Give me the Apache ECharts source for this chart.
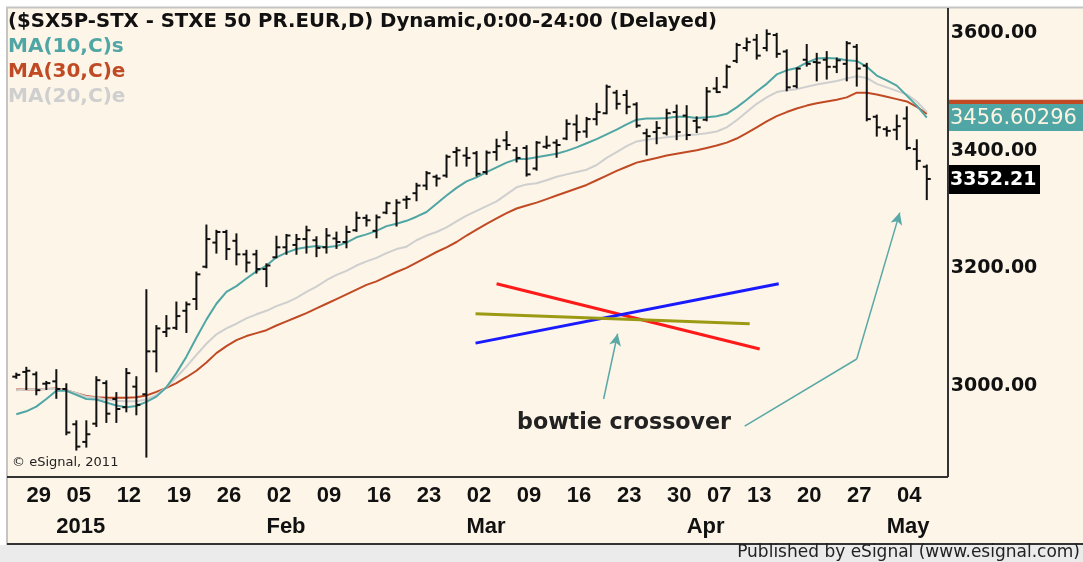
<!DOCTYPE html>
<html>
<head>
<meta charset="utf-8">
<script src="https://cdn.jsdelivr.net/npm/echarts@6/dist/echarts.min.js"></script>
<style>
html, body { margin: 0; padding: 0; background: #fff; }
#main { width: 1083px; height: 562px; }
</style>
</head>
<body>
<div id="main"></div>
<script>
// trading days on the chart (Dec 2014 - May 2015)
var dates = ['12-23', '12-24', '12-29', '12-30', '12-31', '01-02',
    '01-05', '01-06', '01-07', '01-08', '01-09', '01-12', '01-13', '01-14', '01-15', '01-16',
    '01-19', '01-20', '01-21', '01-22', '01-23', '01-26', '01-27', '01-28', '01-29', '01-30',
    '02-02', '02-03', '02-04', '02-05', '02-06', '02-09', '02-10', '02-11', '02-12', '02-13',
    '02-16', '02-17', '02-18', '02-19', '02-20', '02-23', '02-24', '02-25', '02-26', '02-27',
    '03-02', '03-03', '03-04', '03-05', '03-06', '03-09', '03-10', '03-11', '03-12', '03-13',
    '03-16', '03-17', '03-18', '03-19', '03-20', '03-23', '03-24', '03-25', '03-26', '03-27',
    '03-30', '03-31', '04-01', '04-02', '04-07', '04-08', '04-09', '04-10',
    '04-13', '04-14', '04-15', '04-16', '04-17', '04-20', '04-21', '04-22', '04-23', '04-24',
    '04-27', '04-28', '04-29', '04-30', '05-01', '05-04', '05-05', '05-06'];

var opens = [3016, 3024, 3020, 3004, 3008, 2995, 2935, 2905, 2936, 3005, 2978, 2964, 2999, 2986, 3059, 3092,
    3099, 3128, 3148, 3203, 3244, 3262, 3247, 3224, 3224, 3199, 3219, 3236, 3240, 3250, 3248, 3236,
    3251, 3245, 3265, 3286, 3264, 3295, 3294, 3317, 3328, 3341, 3356, 3358, 3398, 3392, 3396, 3364,
    3398, 3418, 3401, 3405, 3370, 3407, 3414, 3421, 3445, 3433, 3454, 3464, 3499, 3495, 3479, 3430,
    3432, 3430, 3466, 3460, 3451, 3453, 3506, 3509, 3553, 3575, 3589, 3575, 3597, 3569, 3510, 3555,
    3551, 3555, 3543, 3548, 3577, 3545, 3458, 3437, 3436, 3455, 3403, 3373];
var highs = [3021, 3031, 3023, 3007, 3027, 3003, 2940, 2940, 3015, 3008, 2988, 3029, 3015, 3163, 3102, 3119,
    3142, 3142, 3193, 3273, 3264, 3264, 3258, 3230, 3230, 3207, 3254, 3257, 3257, 3271, 3253, 3267,
    3261, 3271, 3295, 3290, 3290, 3312, 3316, 3322, 3344, 3364, 3358, 3392, 3405, 3405, 3398, 3399,
    3419, 3432, 3405, 3408, 3415, 3424, 3418, 3452, 3460, 3456, 3480, 3511, 3502, 3502, 3481, 3436,
    3449, 3470, 3477, 3476, 3457, 3507, 3524, 3545, 3582, 3591, 3597, 3605, 3599, 3571, 3540, 3580,
    3565, 3568, 3557, 3585, 3580, 3548, 3460, 3440, 3460, 3474, 3418, 3375];
var lows = [3014, 2995, 2986, 2995, 2980, 2918, 2892, 2897, 2932, 2939, 2939, 2957, 2952, 2880, 3025, 3085,
    3097, 3092, 3131, 3202, 3227, 3216, 3207, 3195, 3193, 3170, 3219, 3225, 3225, 3227, 3221, 3227,
    3235, 3236, 3264, 3273, 3253, 3294, 3273, 3303, 3316, 3335, 3341, 3356, 3375, 3375, 3358, 3361,
    3385, 3403, 3382, 3358, 3368, 3405, 3390, 3420, 3418, 3424, 3445, 3464, 3472, 3464, 3441, 3394,
    3413, 3428, 3420, 3420, 3432, 3452, 3500, 3508, 3551, 3571, 3557, 3571, 3560, 3503, 3508, 3545,
    3520, 3523, 3534, 3520, 3511, 3452, 3426, 3426, 3420, 3403, 3369, 3318];
var closes = [3019, 3026, 2993, 3005, 2995, 2921, 2897, 2918, 3010, 2953, 2961, 3022, 2968, 3059, 3098, 3098,
    3119, 3139, 3190, 3250, 3262, 3233, 3224, 3210, 3199, 3205, 3236, 3256, 3250, 3265, 3235, 3256,
    3245, 3262, 3286, 3282, 3287, 3311, 3312, 3318, 3341, 3362, 3353, 3390, 3401, 3388, 3361, 3397,
    3408, 3410, 3388, 3360, 3414, 3409, 3410, 3446, 3432, 3454, 3466, 3509, 3480, 3475, 3443, 3425,
    3439, 3464, 3432, 3427, 3440, 3501, 3500, 3543, 3580, 3585, 3562, 3599, 3565, 3508, 3540, 3548,
    3550, 3543, 3554, 3583, 3540, 3454, 3440, 3434, 3442, 3405, 3383, 3352.21];

// moving averages as drawn on the chart
var ma10 = [2952, 2957, 2965, 2978, 2992, 2992, 2985, 2978, 2977, 2972, 2967, 2964, 2966, 2973, 2982, 2998,
    3022, 3050, 3082, 3113, 3140, 3160, 3170, 3183, 3195, 3205, 3219, 3227, 3233, 3236, 3238, 3236,
    3238, 3244, 3253, 3258, 3264, 3272, 3276, 3281, 3288, 3296, 3310, 3324, 3337, 3348, 3355, 3364,
    3372, 3380, 3386, 3386, 3389, 3392, 3395, 3400, 3406, 3413, 3420, 3428, 3436, 3445, 3453, 3455,
    3455, 3456, 3458, 3458, 3456, 3457, 3459, 3463, 3474, 3487, 3501, 3514, 3530, 3537, 3541, 3550,
    3557, 3558, 3557, 3554, 3553, 3543, 3528, 3520, 3511, 3494, 3477, 3456.60296];
var ma30 = [2994, 2994, 2994, 2995, 2996, 2993, 2988, 2983, 2981, 2980, 2980, 2980, 2981, 2984, 2990, 2997,
    3005, 3015, 3026, 3040, 3056, 3068, 3078, 3085, 3090, 3095, 3103, 3110, 3117, 3124, 3132, 3140,
    3148, 3156, 3164, 3172, 3178, 3186, 3194, 3201, 3210, 3219, 3228, 3236, 3245, 3256, 3266, 3276,
    3285, 3294, 3302, 3307, 3312, 3318, 3324, 3330, 3336, 3342, 3350, 3358, 3366, 3373, 3380, 3384,
    3388, 3392, 3395, 3398, 3401, 3405, 3409, 3414, 3421, 3430, 3440, 3450, 3459, 3466, 3472, 3477,
    3481, 3484, 3487, 3491, 3499, 3499, 3496, 3492, 3488, 3484, 3475, 3463];
var ma20 = [2993, 2994, 2994, 2995, 2995, 2993, 2988, 2982, 2980, 2977, 2975, 2974, 2974, 2977, 2985, 2998,
    3015, 3033, 3053, 3072, 3088, 3098, 3106, 3115, 3122, 3128, 3136, 3142, 3150, 3160, 3169, 3180,
    3189, 3196, 3205, 3212, 3218, 3226, 3233, 3237, 3248, 3256, 3262, 3270, 3280, 3290, 3298, 3306,
    3314, 3326, 3338, 3343, 3345, 3350, 3356, 3360, 3364, 3368, 3376, 3388, 3398, 3408, 3416, 3419,
    3421, 3423, 3425, 3427, 3428, 3430, 3433, 3440, 3452, 3466, 3480, 3491, 3500, 3503, 3505, 3509,
    3513, 3516, 3519, 3523, 3527, 3524, 3514, 3508, 3502, 3496, 3484, 3466];

// axis labels: first day of each week, month names start at the month boundary
var weekIdx = [2, 6, 11, 16, 21, 26, 31, 36, 41, 46, 51, 56, 61, 66, 70, 74, 79, 84, 89];
var monthIdx = [4, 25, 45, 67, 87];
var monthText = ['2015', 'Feb', 'Mar', 'Apr', 'May'];
var yTicks = [3000, 3200, 3400, 3600];

// hand drawn notes, [bar index, price]
var redNote = [[48.0, 3174], [74.3, 3063]];
var blueNote = [[45.9, 3073], [76.2, 3174]];
var oliveNote = [[45.9, 3123], [73.3, 3106]];
var arrowA = [[58.7, 2978], [60.1, 3089]];
var arrowB = [[72.8, 2932], [84.0, 3046], [88.3, 3295]];

var CREAM = '#fcf5e8';
var TEAL = '#4fa6a4';
var RUST = '#c04a24';
var GREY = '#cfcfcf';
var ARIAL = '"Liberation Sans", Arial, sans-serif';
var VERD = '"DejaVu Sans", Verdana, sans-serif';

var chart = echarts.init(document.getElementById('main'));

function pairs(arr) {
    return arr.map(function(v, i) { return [i, v]; });
}

var ohlc = dates.map(function(d, i) {
    return [i, opens[i], highs[i], lows[i], closes[i]];
});

function renderBar(params, api) {
    var x = api.value(0);
    var pO = api.coord([x, api.value(1)]);
    var pH = api.coord([x, api.value(2)]);
    var pL = api.coord([x, api.value(3)]);
    var pC = api.coord([x, api.value(4)]);
    var st = { stroke: '#111', lineWidth: 2 };
    return {
        type: 'group',
        children: [
            { type: 'line', shape: { x1: pH[0], y1: pH[1] - 1, x2: pL[0], y2: pL[1] + 1 }, style: st },
            { type: 'line', shape: { x1: pO[0] - 4, y1: pO[1], x2: pO[0], y2: pO[1] }, style: st },
            { type: 'line', shape: { x1: pC[0], y1: pC[1], x2: pC[0] + 4, y2: pC[1] }, style: st }
        ]
    };
}

function seg(pts, color, width, arrow) {
    var out = [];
    for (var k = 0; k < pts.length - 1; k++) {
        var last = arrow && k === pts.length - 2;
        out.push([
            { coord: pts[k], symbol: 'none', lineStyle: { color: color, width: width, type: 'solid' } },
            { coord: pts[k + 1], symbol: last ? 'arrow' : 'none', symbolSize: [9, 12] }
        ]);
    }
    return out;
}

var noteLines = []
    .concat(seg(redNote, '#ff1a1a', 3, false))
    .concat(seg(blueNote, '#1a1aff', 3, false))
    .concat(seg(oliveNote, '#9c9a12', 3, false))
    .concat(seg(arrowA, '#5aa9a6', 1.5, true))
    .concat(seg(arrowB, '#5aa9a6', 1.5, true));

var xBase = {
    type: 'value', min: -1, max: 93, gridIndex: 0, position: 'bottom',
    axisLine: { show: false }, axisTick: { show: false }, splitLine: { show: false }
};

var option = {
    animation: false,
    backgroundColor: CREAM,
    grid: { left: 6.3, right: 136.2, top: 8, bottom: 86 },
    xAxis: [
        Object.assign({}, xBase, {
            axisLabel: {
                customValues: weekIdx,
                margin: 9,
                padding: [0, 0, 0, 5],
                color: '#111',
                fontFamily: ARIAL,
                fontWeight: 'bold',
                fontSize: 22,
                formatter: function(v) {
                    var d = dates[Math.round(v)];
                    return d ? d.slice(3) : '';
                }
            }
        }),
        Object.assign({}, xBase, {
            axisLabel: {
                customValues: monthIdx,
                margin: 40,
                align: 'left',
                color: '#111',
                fontFamily: ARIAL,
                fontWeight: 'bold',
                fontSize: 22,
                formatter: function(v) {
                    var k = monthIdx.indexOf(Math.round(v));
                    return k >= 0 ? monthText[k] : '';
                }
            }
        })
    ],
    yAxis: {
        type: 'value',
        position: 'right',
        min: 2847,
        max: 3643,
        axisLine: { show: false },
        axisTick: { show: false },
        splitLine: { show: false },
        axisLabel: {
            customValues: yTicks,
            margin: 4,
            padding: [7, 0, 0, 0],
            color: '#111',
            fontFamily: VERD,
            fontWeight: 'bold',
            fontSize: 19,
            formatter: function(v) { return v.toFixed(2); }
        }
    },
    series: [
        {
            name: 'MA(30,C)e', type: 'line', data: pairs(ma30), showSymbol: false,
            lineStyle: { color: RUST, width: 2 }, itemStyle: { color: RUST }, z: 2
        },
        {
            name: 'MA(20,C)e', type: 'line', data: pairs(ma20), showSymbol: false,
            lineStyle: { color: GREY, width: 2 }, itemStyle: { color: GREY }, z: 2
        },
        {
            name: 'MA(10,C)s', type: 'line', data: pairs(ma10), showSymbol: false,
            lineStyle: { color: TEAL, width: 2 }, itemStyle: { color: TEAL }, z: 3,
            markLine: {
                silent: true,
                animation: false,
                symbol: ['none', 'none'],
                label: { show: false },
                emphasis: { disabled: true },
                data: noteLines
            }
        },
        {
            name: 'SX5P', type: 'custom', renderItem: renderBar, data: ohlc,
            encode: { x: 0, y: [1, 2, 3, 4] }, z: 5, silent: true
        }
    ]
};

chart.setOption(option);

// chrome, legend text and last value boxes
var yOf = function(v) { return chart.convertToPixel({ yAxisIndex: 0 }, v); };
var n = closes.length - 1;
var g = [];
g.push({ type: 'rect', shape: { x: 0, y: 0, width: 1083, height: 7 }, style: { fill: '#fff' }, z: 1 });
g.push({ type: 'rect', shape: { x: 0, y: 0, width: 6, height: 562 }, style: { fill: '#fff' }, z: 1 });
g.push({ type: 'rect', shape: { x: 0, y: 545, width: 1083, height: 17 }, style: { fill: '#ebebeb' }, z: 1 });
g.push({ type: 'line', shape: { x1: 6, y1: 7.5, x2: 1083, y2: 7.5 }, style: { stroke: '#c4c4c4', lineWidth: 2 }, z: 1 });
g.push({ type: 'line', shape: { x1: 7, y1: 7, x2: 7, y2: 545 }, style: { stroke: '#c4c4c4', lineWidth: 2 }, z: 1 });
g.push({ type: 'line', shape: { x1: 948, y1: 8, x2: 948, y2: 477 }, style: { stroke: '#333', lineWidth: 2 }, z: 1 });
g.push({ type: 'line', shape: { x1: 7, y1: 477, x2: 948, y2: 477 }, style: { stroke: '#333', lineWidth: 2 }, z: 1 });
g.push({ type: 'line', shape: { x1: 7, y1: 544, x2: 1083, y2: 544 }, style: { stroke: '#333', lineWidth: 2 }, z: 1 });

var legendRows = [
    ['($SX5P-STX - STXE 50 PR.EUR,D) Dynamic,0:00-24:00 (Delayed)', '#111', 19.7],
    ['MA(10,C)s', TEAL, 20],
    ['MA(30,C)e', RUST, 20],
    ['MA(20,C)e', GREY, 20]
];
legendRows.forEach(function(r, k) {
    g.push({
        type: 'text', x: 8, y: 22 + k * 25, z: 10,
        style: { text: r[0], fill: r[1], font: 'bold ' + r[2] + 'px ' + VERD, align: 'left', verticalAlign: 'middle' }
    });
});
g.push({
    type: 'text', x: 12, y: 463, z: 10,
    style: { text: '\u00a9 eSignal, 2011', fill: '#222', font: '13px ' + VERD, verticalAlign: 'middle' }
});
g.push({
    type: 'text', x: 517, y: 423, z: 10,
    style: { text: 'bowtie crossover', fill: '#222', font: 'bold 22.2px ' + VERD, verticalAlign: 'middle' }
});
g.push({
    type: 'text', x: 1080, y: 553, z: 10,
    style: { text: 'Published by eSignal (www.esignal.com)', fill: '#222', font: '17px ' + VERD, align: 'right', verticalAlign: 'middle' }
});

// value boxes on the price scale
var y30 = yOf(ma30[n]);
g.push({ type: 'rect', shape: { x: 949, y: y30 - 14, width: 134, height: 27 }, style: { fill: RUST }, z: 11 });
var y10 = yOf(ma10[n]);
g.push({ type: 'rect', shape: { x: 949, y: y10 - 13.5, width: 134, height: 27 }, style: { fill: TEAL }, z: 12 });
g.push({
    type: 'text', x: 950, y: y10 + 1, z: 13,
    style: { text: String(ma10[n]), fill: '#fdf3e2', font: '21px ' + VERD, verticalAlign: 'middle' }
});
var yc = yOf(closes[n]);
g.push({ type: 'rect', shape: { x: 949, y: yc - 14, width: 91, height: 29 }, style: { fill: '#000' }, z: 12 });
g.push({
    type: 'text', x: 950, y: yc + 1, z: 13,
    style: { text: closes[n].toFixed(2), fill: '#fff', font: 'bold 19px ' + VERD, verticalAlign: 'middle' }
});

chart.setOption({ graphic: g });
</script>
</body>
</html>
